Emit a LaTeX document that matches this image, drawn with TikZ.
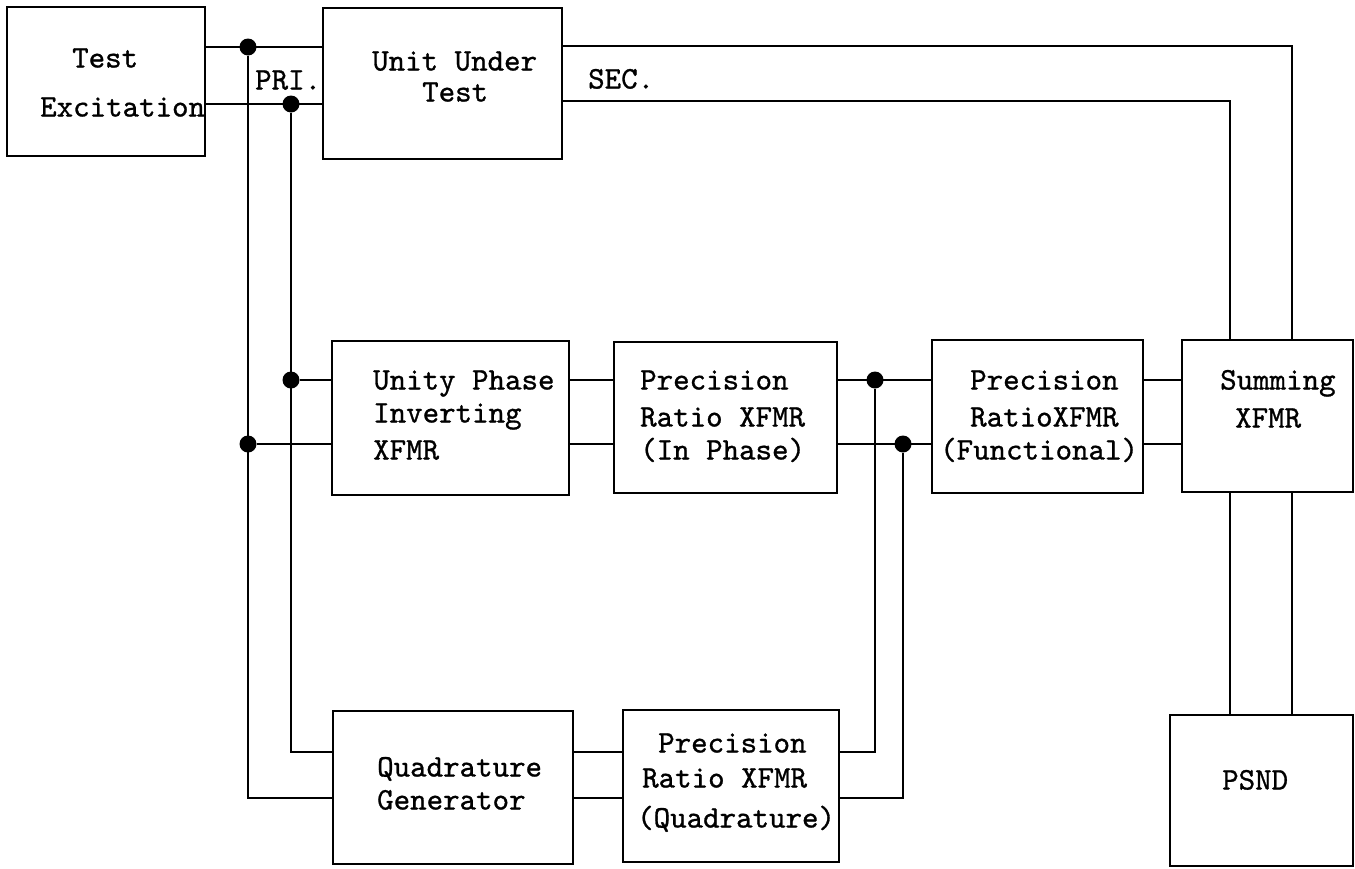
\documentclass[tikz,border=0pt]{standalone}
\usepackage{fontspec}
\newfontfamily\twfont{lmmono10-regular}[Extension=.otf, FakeBold=0.9]
\usetikzlibrary{calc}
\tikzset{
  box/.style={draw, line width=2.7pt, inner sep=0pt, rectangle},
  wire/.style={line width=2.7pt},
  jdot/.style={circle, fill=black, inner sep=0pt, minimum size=17pt},
  txt/.style={font=\fontsize{31.4}{35}\selectfont\twfont, inner sep=0pt, text height=19pt, text depth=0pt, anchor=west}
}
\begin{document}
\begin{tikzpicture}[x=1pt,y=-1pt]
\useasboundingbox (0,0) rectangle (1355,868);
% boxes
\node[box, minimum width=198pt, minimum height=149pt] (te) at (106,81.5) {};
\node[box, minimum width=239pt, minimum height=151pt] (uut) at (442.5,83.5) {};
\node[box, minimum width=237pt, minimum height=154pt] (unity) at (450.5,418) {};
\node[box, minimum width=223pt, minimum height=151pt] (pin) at (725.5,417.5) {};
\node[box, minimum width=211pt, minimum height=153pt] (pfun) at (1037.5,416.5) {};
\node[box, minimum width=171pt, minimum height=152pt] (sum) at (1267.5,416) {};
\node[box, minimum width=240pt, minimum height=153pt] (quad) at (453,787.5) {};
\node[box, minimum width=216pt, minimum height=152pt] (pquad) at (731,786) {};
\node[box, minimum width=183pt, minimum height=151pt] (psnd) at (1261.5,790.5) {};
% texts
\node[txt] (te1) at (72,58) {Test};
\node[txt] (te2) at (40,107) {Excitation};
\node[txt] (uut1) at (372,61) {Unit Under};
\node[txt] (uut2) at (422,92) {Test};
\node[txt] (pri) at (255,80) {PRI.};
\node[txt] (sec) at (588,79) {SEC.};
\node[txt] (un1) at (373,380) {Unity Phase};
\node[txt] (un2) at (373,413) {Inverting};
\node[txt] (un3) at (373,450) {XFMR};
\node[txt] (pi1) at (640,380) {Precision};
\node[txt] (pi2) at (640,417) {Ratio XFMR};
\node[txt] (pi3) at (640,450) {(In Phase)};
\node[txt] (pf1) at (970,380) {Precision};
\node[txt] (pf2) at (970,417) {RatioXFMR};
\node[txt] (pf3) at (940,450) {(Functional)};
\node[txt] (su1) at (1220,380) {Summing};
\node[txt] (su2) at (1235,418) {XFMR};
\node[txt] (qg1) at (377,767) {Quadrature};
\node[txt] (qg2) at (377,800) {Generator};
\node[txt] (pq1) at (658,743) {Precision};
\node[txt] (pq2) at (642,778) {Ratio XFMR};
\node[txt] (pq3) at (637,818) {(Quadrature)};
\node[txt] (ps1) at (1222,780) {PSND};
% rows and columns
\coordinate (yA) at (0,47);
\coordinate (yB) at (0,104);
\coordinate (sA) at (0,46);
\coordinate (sB) at (0,101);
\coordinate (m1) at (0,380);
\coordinate (m2) at (0,444);
\coordinate (q1) at (0,752);
\coordinate (q2) at (0,798);
\coordinate (xL) at (248,0);
\coordinate (xR) at (291,0);
\coordinate (xd1) at (875,0);
\coordinate (xd2) at (903,0);
\coordinate (xs1) at (1230,0);
\coordinate (xs2) at (1292,0);
% junction dots
\node[jdot] (d1) at (xL |- yA) {};
\node[jdot] (d2) at (xR |- yB) {};
\node[jdot] (d3) at (xR |- m1) {};
\node[jdot] (d4) at (xL |- m2) {};
\node[jdot] (d5) at (xd1 |- m1) {};
\node[jdot] (d6) at (xd2 |- m2) {};
% wires
\draw[wire] (te.east |- yA) -- (uut.west |- yA);
\draw[wire] (te.east |- yB) -- (uut.west |- yB);
\draw[wire] (d1) -- (xL |- q2) -- (quad.west |- q2);
\draw[wire] (d2) -- (xR |- q1) -- (quad.west |- q1);
\draw[wire] (d3) -- (unity.west |- m1);
\draw[wire] (d4) -- (unity.west |- m2);
\draw[wire] (unity.east |- m1) -- (pin.west |- m1);
\draw[wire] (unity.east |- m2) -- (pin.west |- m2);
\draw[wire] (pin.east |- m1) -- (pfun.west |- m1);
\draw[wire] (pin.east |- m2) -- (pfun.west |- m2);
\draw[wire] (quad.east |- q1) -- (pquad.west |- q1);
\draw[wire] (quad.east |- q2) -- (pquad.west |- q2);
\draw[wire] (pquad.east |- q1) -- (xd1 |- q1) -- (d5);
\draw[wire] (pquad.east |- q2) -- (xd2 |- q2) -- (d6);
\draw[wire] (pfun.east |- m1) -- (sum.west |- m1);
\draw[wire] (pfun.east |- m2) -- (sum.west |- m2);
\draw[wire] (uut.east |- sA) -- (xs2 |- sA) -- (sum.north -| xs2);
\draw[wire] (uut.east |- sB) -- (xs1 |- sB) -- (sum.north -| xs1);
\draw[wire] (sum.south -| xs1) -- (psnd.north -| xs1);
\draw[wire] (sum.south -| xs2) -- (psnd.north -| xs2);
\end{tikzpicture}
\end{document}
